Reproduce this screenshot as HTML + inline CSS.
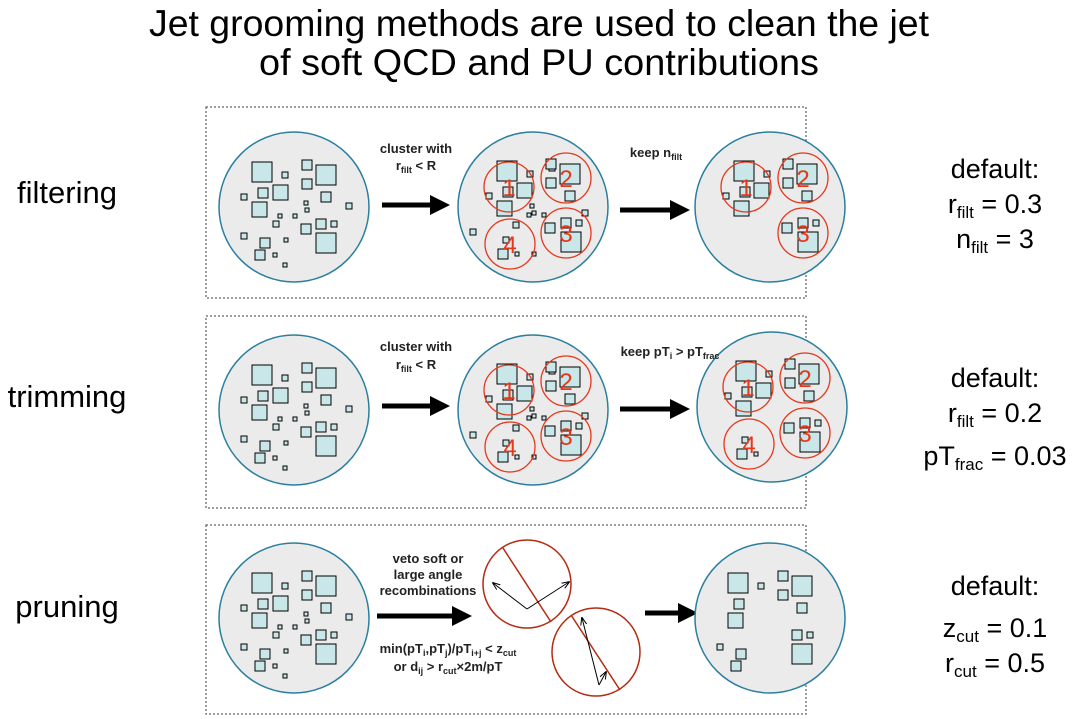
<!DOCTYPE html>
<html><head><meta charset="utf-8"><style>
html,body{margin:0;padding:0;background:#fff;}
svg{display:block;font-family:"Liberation Sans",sans-serif;}
</style></head><body>
<svg id="s" width="1078" height="719" viewBox="0 0 1078 719" xmlns="http://www.w3.org/2000/svg">
<defs><marker id="ah" markerWidth="4" markerHeight="4" refX="2" refY="2" orient="auto" markerUnits="strokeWidth"><path d="M0,0 L4,2 L0,4 z" fill="#000"/></marker>
<marker id="sa" markerWidth="8" markerHeight="8" refX="7" refY="4" orient="auto" markerUnits="userSpaceOnUse"><path d="M0,1 L8,4 L0,7" fill="none" stroke="#000" stroke-width="1"/></marker></defs>
<text x="539" y="36" font-size="37" text-anchor="middle" textLength="780" lengthAdjust="spacingAndGlyphs">Jet grooming methods are used to clean the jet</text>
<text x="539" y="75" font-size="37" text-anchor="middle" textLength="560" lengthAdjust="spacingAndGlyphs">of soft QCD and PU contributions</text>
<g fill="none" stroke="#666" stroke-width="1.3" stroke-dasharray="2,2">
<rect x="206" y="107" width="600" height="191"/>
<rect x="206" y="316" width="600" height="192"/>
<rect x="206" y="525" width="600" height="189"/>
</g>
<g id="shapes"></g>
<g font-size="31" text-anchor="middle">
<text x="67" y="203">filtering</text>
<text x="67" y="407">trimming</text>
<text x="67" y="617">pruning</text>
</g>
<g font-size="27" text-anchor="middle">
<text x="995" y="178">default:</text>
<text x="995" y="213">r<tspan font-size="17" dy="5">filt</tspan><tspan dy="-5"> = 0.3</tspan></text>
<text x="995" y="248">n<tspan font-size="17" dy="5">filt</tspan><tspan dy="-5"> = 3</tspan></text>
<text x="995" y="387">default:</text>
<text x="995" y="422">r<tspan font-size="17" dy="5">filt</tspan><tspan dy="-5"> = 0.2</tspan></text>
<text x="995" y="465">pT<tspan font-size="17" dy="5">frac</tspan><tspan dy="-5"> = 0.03</tspan></text>
<text x="995" y="595">default:</text>
<text x="995" y="637">z<tspan font-size="17" dy="5">cut</tspan><tspan dy="-5"> = 0.1</tspan></text>
<text x="995" y="672">r<tspan font-size="17" dy="5">cut</tspan><tspan dy="-5"> = 0.5</tspan></text>
</g>
<g font-size="13" font-weight="bold" text-anchor="middle" fill="#222">
<text x="416" y="153">cluster with</text>
<text x="416" y="170">r<tspan font-size="9" dy="3">filt</tspan><tspan dy="-3"> &lt; R</tspan></text>
<text x="656" y="157">keep n<tspan font-size="9" dy="3">filt</tspan></text>
<text x="416" y="351">cluster with</text>
<text x="416" y="369">r<tspan font-size="9" dy="3">filt</tspan><tspan dy="-3"> &lt; R</tspan></text>
<text x="670" y="356">keep pT<tspan font-size="9" dy="3">i</tspan><tspan dy="-3"> &gt; pT</tspan><tspan font-size="9" dy="3">frac</tspan></text>
<text x="428" y="563">veto soft or</text>
<text x="428" y="579">large angle</text>
<text x="428" y="595">recombinations</text>
<text x="448" y="653">min(pT<tspan font-size="9" dy="3">i</tspan><tspan dy="-3">,pT</tspan><tspan font-size="9" dy="3">j</tspan><tspan dy="-3">)/pT</tspan><tspan font-size="9" dy="3">i+j</tspan><tspan dy="-3"> &lt; z</tspan><tspan font-size="9" dy="3">cut</tspan></text>
<text x="448" y="671">or d<tspan font-size="9" dy="3">ij</tspan><tspan dy="-3"> &gt; r</tspan><tspan font-size="9" dy="3">cut</tspan><tspan dy="-3">×2m/pT</tspan></text>
</g>
</svg>
<script>
var NS="http://www.w3.org/2000/svg",G=document.getElementById("shapes");
function el(t,a){var e=document.createElementNS(NS,t);for(var k in a)e.setAttribute(k,a[k]);G.appendChild(e);return e;}
var P=[[-42,-45,20],[-12,-35,6],[8,-47,10],[22,-42,20],[-36,-19,10],[-21,-22,15],[8,-28,10],[-53,-13,6],[-42,-5,15],[27,-15,10],[10,-6,4],[11,1,4],[52,-4,6],[-16,7,4],[-1,7,4],[-21,14,6],[7,17,10],[22,12,10],[37,14,6],[-53,26,6],[22,26,20],[-34,31,10],[-10,31,4],[-39,43,10],[-21,46,4],[-11,56,4]];
var C=[[[-12,-26,20],[8,-4,15],[-6,0,10],[-12,14,15],[-23,6,6],[18,-16,6]],[[-6,-14,20],[-20,-19,10],[-20,0,10],[-1,13,10]],[[-5,-1,20],[-5,-15,10],[-21,-10,10],[10,-13,6]],[[-12,5,10],[-7,-7,6],[5,8,4]]];
var CC=[[-24,-20],[33,-29],[33,26],[-23,37]];
var EX=[[-6,6,4],[9,6,4],[49,3,6],[-63,22,6],[-3,-3,4],[-1,4,4],[-1,45,4],[-20,15,6],[16,-42,6]];
function sq(x,y,s){el("rect",{x:x,y:y,width:s,height:s,fill:"#c9e6e8",stroke:"#000","stroke-width":1});}
function base(cx,cy){el("circle",{cx:cx,cy:cy,r:75,fill:"#ebebeb",stroke:"#2a7f9e","stroke-width":1.5});}
function orig(cx,cy){base(cx,cy);P.forEach(function(p){sq(cx+p[0],cy+p[1],p[2]);});}
function clus(cx,cy,n,extra){base(cx,cy);if(extra)EX.forEach(function(p){sq(cx+p[0],cy+p[1],p[2]);});
 var order=[0,1,2,3];order.forEach(function(i){if(n.indexOf(i)<0)return;var x=cx+CC[i][0],y=cy+CC[i][1];
 C[i].forEach(function(p){sq(x+p[0],y+p[1],p[2]);});});
 order.forEach(function(i){if(n.indexOf(i)<0)return;var x=cx+CC[i][0],y=cy+CC[i][1];
 el("circle",{cx:x,cy:y,r:25,fill:"none",stroke:"#e8361a","stroke-width":1.3});
 var t=el("text",{x:x,y:y+9,"font-size":"24","text-anchor":"middle",fill:"#e8361a"});t.textContent=String(i+1);});}
function arrow(x1,x2,y){el("line",{x1:x1,y1:y,x2:x2-12,y2:y,stroke:"#000","stroke-width":5,"marker-end":"url(#ah)"});}
orig(294,207);clus(533,207,[0,1,2,3],true);clus(770,207,[0,1,2],false);
arrow(382,452,205);arrow(620,692,210);
orig(294,410);clus(533,410,[0,1,2,3],true);clus(772,407,[0,1,2,3],false);
arrow(382,452,406);arrow(620,692,409);
orig(294,618);arrow(377,474,616);arrow(645,700,613);
var fp=[[-42,-45,20],[-12,-35,6],[8,-47,10],[22,-42,20],[-36,-19,10],[8,-28,10],[-42,-5,15],[27,-15,10],[22,12,10],[37,14,6],[22,26,20],[-34,31,10],[-39,43,10],[-53,26,6]];
base(770,618);fp.forEach(function(p){sq(770+p[0],618+p[1],p[2]);});
el("circle",{cx:527,cy:584,r:44,fill:"#fff",stroke:"#b52a12","stroke-width":1.5});
el("line",{x1:503,y1:548,x2:551,y2:622,stroke:"#b52a12","stroke-width":1.5});
el("line",{x1:527,y1:609,x2:493,y2:583,stroke:"#000","stroke-width":1,"marker-end":"url(#sa)"});
el("line",{x1:527,y1:609,x2:569,y2:582,stroke:"#000","stroke-width":1,"marker-end":"url(#sa)"});
el("circle",{cx:596,cy:652,r:44,fill:"#fff",stroke:"#b52a12","stroke-width":1.5});
el("line",{x1:571,y1:615,x2:620,y2:690,stroke:"#b52a12","stroke-width":1.5});
el("line",{x1:599,y1:685,x2:582,y2:618,stroke:"#000","stroke-width":1,"marker-end":"url(#sa)"});
el("line",{x1:599,y1:685,x2:606,y2:672,stroke:"#000","stroke-width":1,"marker-end":"url(#sa)"});
</script>
</body></html>
